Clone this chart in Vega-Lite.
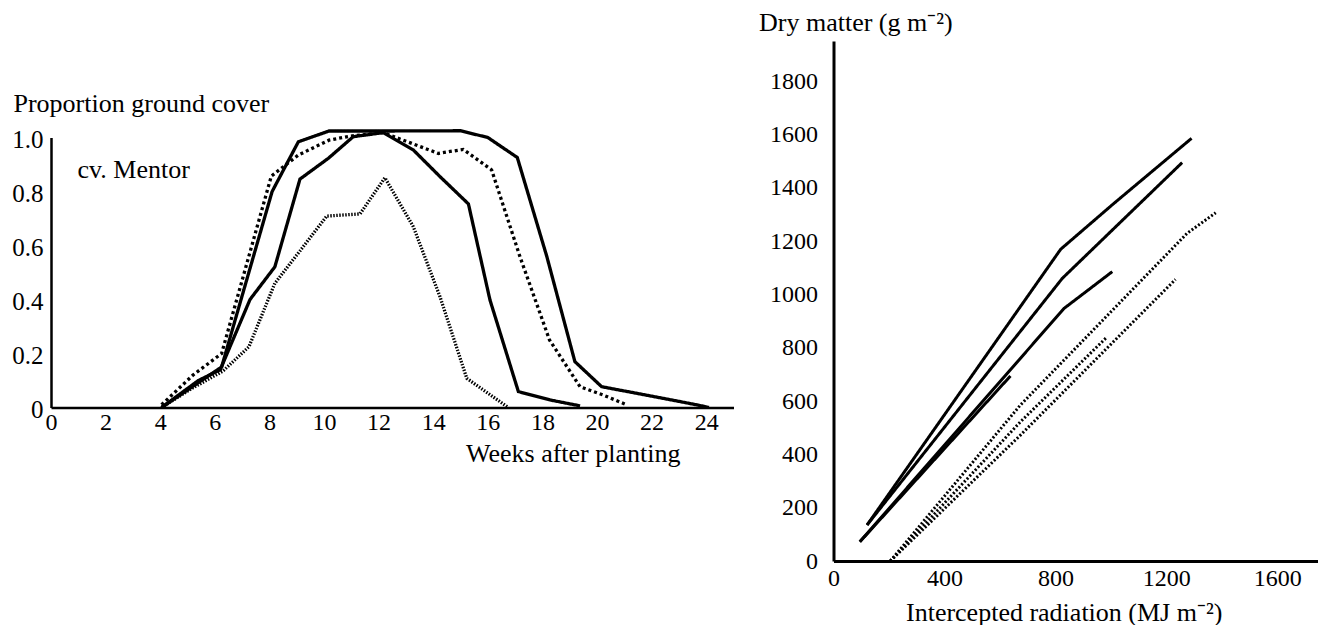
{
  "$schema": "https://vega.github.io/schema/vega-lite/v6.json",
  "background": "white",
  "padding": {"left": 11, "top": 9, "right": 0, "bottom": 0},
  "bounds": "flush",
  "spacing": 99.5,
  "resolve": {"scale": {"strokeDash": "independent", "strokeWidth": "independent"}},
  "config": {
    "font": "Liberation Serif",
    "view": {"stroke": null},
    "axis": {
      "grid": false, "ticks": false,
      "domainColor": "black", "labelColor": "black", "titleColor": "black",
      "labelFont": "Liberation Serif", "titleFont": "Liberation Serif",
      "labelFontSize": 24, "titleFontSize": 26, "titleFontWeight": "normal"
    }
  },
  "hconcat": [
    {
      "width": 682.5,
      "height": 366.5,
      "layer": [
        {
          "data": {"values": [
            {"series": "S1", "week": 4.05, "cover": 0},
            {"series": "S1", "week": 6.25, "cover": 0.15},
            {"series": "S1", "week": 8.1, "cover": 0.8},
            {"series": "S1", "week": 9.06, "cover": 0.984},
            {"series": "S1", "week": 10.18, "cover": 1.024},
            {"series": "S1", "week": 12.1, "cover": 1.024},
            {"series": "S1", "week": 15.0, "cover": 1.025},
            {"series": "S1", "week": 16.0, "cover": 1.0},
            {"series": "S1", "week": 17.08, "cover": 0.926},
            {"series": "S1", "week": 18.16, "cover": 0.56},
            {"series": "S1", "week": 19.19, "cover": 0.17},
            {"series": "S1", "week": 20.17, "cover": 0.077},
            {"series": "S1", "week": 21.8, "cover": 0.046},
            {"series": "S1", "week": 23.65, "cover": 0.01},
            {"series": "S1", "week": 24.1, "cover": 0},
            {"series": "S2", "week": 4.05, "cover": 0.01},
            {"series": "S2", "week": 5.2, "cover": 0.12},
            {"series": "S2", "week": 6.25, "cover": 0.2},
            {"series": "S2", "week": 8.07, "cover": 0.857},
            {"series": "S2", "week": 9.06, "cover": 0.935},
            {"series": "S2", "week": 10.18, "cover": 0.99},
            {"series": "S2", "week": 10.95, "cover": 1.005},
            {"series": "S2", "week": 12.17, "cover": 1.018},
            {"series": "S2", "week": 14.19, "cover": 0.941},
            {"series": "S2", "week": 15.1, "cover": 0.956},
            {"series": "S2", "week": 16.14, "cover": 0.88},
            {"series": "S2", "week": 17.18, "cover": 0.558},
            {"series": "S2", "week": 18.26, "cover": 0.25},
            {"series": "S2", "week": 19.38, "cover": 0.077},
            {"series": "S2", "week": 20.23, "cover": 0.046},
            {"series": "S2", "week": 21.09, "cover": 0.01},
            {"series": "S3", "week": 4.05, "cover": 0},
            {"series": "S3", "week": 5.4, "cover": 0.1},
            {"series": "S3", "week": 6.2, "cover": 0.14},
            {"series": "S3", "week": 7.29, "cover": 0.4},
            {"series": "S3", "week": 8.2, "cover": 0.521},
            {"series": "S3", "week": 9.12, "cover": 0.846},
            {"series": "S3", "week": 10.16, "cover": 0.923},
            {"series": "S3", "week": 11.07, "cover": 1.003},
            {"series": "S3", "week": 12.17, "cover": 1.018},
            {"series": "S3", "week": 13.27, "cover": 0.954},
            {"series": "S3", "week": 14.25, "cover": 0.855},
            {"series": "S3", "week": 15.29, "cover": 0.754},
            {"series": "S3", "week": 16.08, "cover": 0.398},
            {"series": "S3", "week": 17.12, "cover": 0.059},
            {"series": "S3", "week": 18.28, "cover": 0.028},
            {"series": "S3", "week": 19.38, "cover": 0.006},
            {"series": "S4", "week": 4.05, "cover": 0},
            {"series": "S4", "week": 5.15, "cover": 0.07},
            {"series": "S4", "week": 6.3, "cover": 0.135},
            {"series": "S4", "week": 7.25, "cover": 0.225},
            {"series": "S4", "week": 8.2, "cover": 0.46},
            {"series": "S4", "week": 9.12, "cover": 0.58},
            {"series": "S4", "week": 10.1, "cover": 0.709},
            {"series": "S4", "week": 11.32, "cover": 0.717},
            {"series": "S4", "week": 12.23, "cover": 0.851},
            {"series": "S4", "week": 13.27, "cover": 0.67},
            {"series": "S4", "week": 14.25, "cover": 0.41},
            {"series": "S4", "week": 15.23, "cover": 0.108},
            {"series": "S4", "week": 16.75, "cover": 0}
          ]},
          "mark": {"type": "line", "color": "black"},
          "encoding": {
            "x": {
              "field": "week", "type": "quantitative",
              "scale": {"domain": [0, 25], "nice": false, "zero": false},
              "axis": {
                "values": [0, 2, 4, 6, 8, 10, 12, 14, 16, 18, 20, 22, 24],
                "format": "d",
                "labelPadding": 3,
                "labelFlush": false,
                "domainWidth": 2.5,
                "title": "Weeks after planting",
                "titleAlign": "right",
                "titleBaseline": "alphabetic",
                "titleX": 629,
                "titleY": 54
              }
            },
            "y": {
              "field": "cover", "type": "quantitative",
              "scale": {"domain": [0, 1], "range": [366.5, 96.5], "nice": false},
              "axis": {
                "values": [0, 0.2, 0.4, 0.6, 0.8, 1.0],
                "labelExpr": "datum.value == 0 ? '0' : format(datum.value, '.1f')",
                "labelPadding": 8,
                "labelOffset": 2,
                "labelFontSize": 25,
                "labelFlush": false,
                "domainWidth": 2.5,
                "title": "Proportion ground cover",
                "titleAngle": 0,
                "titleAlign": "left",
                "titleBaseline": "alphabetic",
                "titleX": -38,
                "titleY": 70.7
              }
            },
            "strokeDash": {
              "field": "series", "type": "nominal",
              "scale": {"domain": ["S1", "S2", "S3", "S4"], "range": [[1, 0], [3, 3], [1, 0], [1.5, 1.5]]},
              "legend": null
            },
            "strokeWidth": {
              "field": "series", "type": "nominal",
              "scale": {"domain": ["S1", "S2", "S3", "S4"], "range": [3.3, 3.3, 2.3, 1.4]},
              "legend": null
            }
          }
        },
        {
          "data": {"values": [{"week": 0.97, "cover": 0.85, "label": "cv. Mentor"}]},
          "mark": {"type": "text", "align": "left", "baseline": "alphabetic", "fontSize": 26, "font": "Liberation Serif", "color": "black"},
          "encoding": {
            "x": {"field": "week", "type": "quantitative"},
            "y": {"field": "cover", "type": "quantitative"},
            "text": {"field": "label"}
          }
        }
      ]
    },
    {
      "width": 484,
      "height": 520,
      "data": {"values": [
        {"series": "A", "radiation": 121, "drymatter": 135},
        {"series": "A", "radiation": 819, "drymatter": 1169},
        {"series": "A", "radiation": 1011, "drymatter": 1341},
        {"series": "A", "radiation": 1291, "drymatter": 1585},
        {"series": "B", "radiation": 121, "drymatter": 135},
        {"series": "B", "radiation": 825, "drymatter": 1060},
        {"series": "B", "radiation": 1257, "drymatter": 1494},
        {"series": "C", "radiation": 95, "drymatter": 72},
        {"series": "C", "radiation": 831, "drymatter": 947},
        {"series": "C", "radiation": 1005, "drymatter": 1085},
        {"series": "D", "radiation": 95, "drymatter": 72},
        {"series": "D", "radiation": 638, "drymatter": 694},
        {"series": "E", "radiation": 205, "drymatter": 0},
        {"series": "E", "radiation": 674, "drymatter": 585},
        {"series": "E", "radiation": 1275, "drymatter": 1229},
        {"series": "E", "radiation": 1378, "drymatter": 1306},
        {"series": "F", "radiation": 205, "drymatter": 0},
        {"series": "F", "radiation": 674, "drymatter": 522},
        {"series": "F", "radiation": 987, "drymatter": 841},
        {"series": "G", "radiation": 205, "drymatter": 0},
        {"series": "G", "radiation": 674, "drymatter": 472},
        {"series": "G", "radiation": 1233, "drymatter": 1056}
      ]},
      "mark": {"type": "line", "color": "black"},
      "encoding": {
        "x": {
          "field": "radiation", "type": "quantitative",
          "scale": {"domain": [0, 1745], "nice": false, "zero": false},
          "axis": {
            "values": [0, 400, 800, 1200, 1600],
            "format": "d",
            "labelPadding": 5,
            "labelFlush": false,
            "domainWidth": 3,
            "title": "Intercepted radiation (MJ m⁻²)",
            "titleAlign": "left",
            "titleBaseline": "alphabetic",
            "titleX": 72,
            "titleY": 59
          }
        },
        "y": {
          "field": "drymatter", "type": "quantitative",
          "scale": {"domain": [0, 1950], "nice": false},
          "axis": {
            "values": [0, 200, 400, 600, 800, 1000, 1200, 1400, 1600, 1800],
            "format": "d",
            "labelPadding": 16,
            "labelFlush": false,
            "domainWidth": 3,
            "title": "Dry matter (g m⁻²)",
            "titleAngle": 0,
            "titleAlign": "left",
            "titleBaseline": "alphabetic",
            "titleX": -75,
            "titleY": -11
          }
        },
        "strokeDash": {
          "field": "series", "type": "nominal",
          "scale": {"domain": ["A", "B", "C", "D", "E", "F", "G"], "range": [[1, 0], [1, 0], [1, 0], [1, 0], [2, 2], [2, 2], [2, 2]]},
          "legend": null
        },
        "strokeWidth": {
          "field": "series", "type": "nominal",
          "scale": {"domain": ["A", "B", "C", "D", "E", "F", "G"], "range": [3, 3, 3, 3, 2.5, 2.5, 2.5]},
          "legend": null
        }
      }
    }
  ]
}
